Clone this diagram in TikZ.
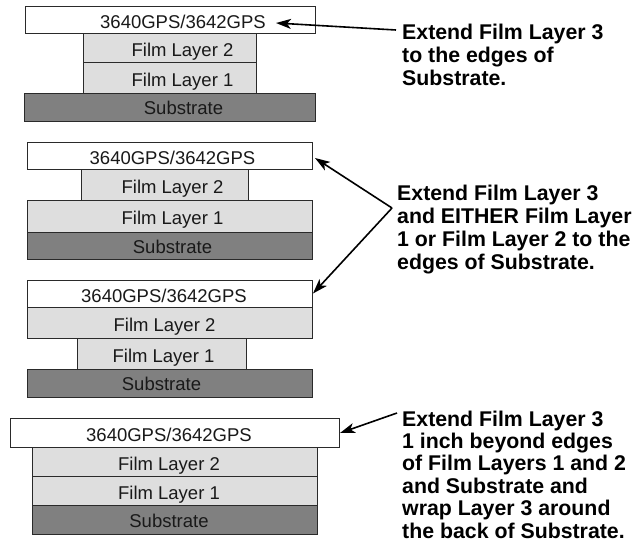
\documentclass[tikz,border=0pt]{standalone}
\usepackage{fontspec}
\setmainfont{Liberation Sans}
\usetikzlibrary{arrows.meta}
\definecolor{filmgray}{HTML}{DEDEDE}
\definecolor{subgray}{HTML}{808080}
\definecolor{edgegray}{HTML}{2A2A2A}
\tikzset{
  layerbox/.style={draw=edgegray, line width=0.9pt, inner sep=0pt, outer sep=0pt},
  toplayer/.style={layerbox, fill=white},
  film/.style={layerbox, fill=filmgray},
  subst/.style={layerbox, fill=subgray},
  lbl/.style={font=\fontsize{18.5}{20}\selectfont, text=black!90, inner sep=0pt, text height=13.2pt, text depth=0pt},
  note/.style={font=\fontsize{21.3}{23}\selectfont\bfseries, align=left, inner sep=0pt, anchor=base west},
  pointer/.style={line width=1.6pt, -{Stealth[length=15pt, width=10pt, inset=4pt]}},
}
\begin{document}
\begin{tikzpicture}[x=1pt,y=-1pt]
\useasboundingbox[fill=white] (0,0) rectangle (637,552);

% Diagram 1
\node[toplayer, minimum width=290, minimum height=27, label={[lbl,xshift=13,yshift=-2]center:3640GPS/3642GPS}] (a3) at (170,19.5) {};
\node[film, minimum width=173, minimum height=29, label={[lbl,xshift=13,yshift=-2]center:Film Layer 2}] (a2) at (169.5,47.5) {};
\node[film, minimum width=173, minimum height=31, label={[lbl,xshift=13,yshift=-2]center:Film Layer 1}] (a1) at (169.5,77.5) {};
\node[subst, minimum width=291, minimum height=28, label={[lbl,xshift=14,yshift=-1]center:Substrate}] (as) at (169.5,107) {};

% Diagram 2
\node[toplayer, minimum width=285, minimum height=26.5, label={[lbl,xshift=3,yshift=-2]center:3640GPS/3642GPS}] (b3) at (169.5,155.75) {};
\node[film, minimum width=167, minimum height=31, label={[lbl,xshift=8,yshift=-2]center:Film Layer 2}] (b2) at (164.5,184.5) {};
\node[film, minimum width=285, minimum height=32, label={[lbl,xshift=3,yshift=-2]center:Film Layer 1}] (b1) at (169.5,216) {};
\node[subst, minimum width=285, minimum height=27, label={[lbl,xshift=3,yshift=-1]center:Substrate}] (bs) at (169.5,245.5) {};

% Diagram 3
\node[toplayer, minimum width=285, minimum height=26.5, label={[lbl,xshift=-5.5,yshift=-2]center:3640GPS/3642GPS}] (c3) at (169.5,293.75) {};
\node[film, minimum width=285, minimum height=31, label={[lbl,xshift=-5,yshift=-2]center:Film Layer 2}] (c2) at (169.5,322.5) {};
\node[film, minimum width=169, minimum height=31, label={[lbl,xshift=2,yshift=-2]center:Film Layer 1}] (c1) at (161.5,353.5) {};
\node[subst, minimum width=285, minimum height=28, label={[lbl,xshift=-8,yshift=-1]center:Substrate}] (cs) at (169.5,383) {};

% Diagram 4
\node[toplayer, minimum width=329, minimum height=29, label={[lbl,xshift=-5.5,yshift=-2]center:3640GPS/3642GPS}] (d3) at (174.5,432.5) {};
\node[film, minimum width=285, minimum height=29, label={[lbl,xshift=-5.5,yshift=-2]center:Film Layer 2}] (d2) at (174.5,461.5) {};
\node[film, minimum width=285, minimum height=29, label={[lbl,xshift=-5.5,yshift=-2]center:Film Layer 1}] (d1) at (174.5,490.5) {};
\node[subst, minimum width=285, minimum height=29, label={[lbl,xshift=-5.5,yshift=-1]center:Substrate}] (ds) at (174.5,519.5) {};

% Notes (anchored at the baseline of their last line)
\node[note] (t1) at (402,85.3) {Extend Film Layer 3\\to the edges of\\Substrate.};
\node[note] (t2) at (397,269.5) {Extend Film Layer 3\\and EITHER Film Layer\\1 or Film Layer 2 to the\\edges of Substrate.};
\node[note, font=\fontsize{21.3}{22.4}\selectfont\bfseries] (t3) at (402,538) {Extend Film Layer 3\\1 inch beyond edges\\of Film Layers 1 and 2\\and Substrate and\\wrap Layer 3 around\\the back of Substrate.};

% Arrow ends
\coordinate (p1tail) at (396,30);
\coordinate (p1tip) at (276,23);
\coordinate (p2apex) at (392,208);
\coordinate (p2tip) at (315,158);
\coordinate (p3tip) at (313,293.5);
\coordinate (p4tail) at (397,413);
\coordinate (p4tip) at (340,433);

\draw[pointer] (p1tail) -- (p1tip);
\draw[pointer] (p2apex) -- (p2tip);
\draw[pointer] (p2apex) -- (p3tip);
\draw[pointer] (p4tail) -- (p4tip);
\end{tikzpicture}
\end{document}
